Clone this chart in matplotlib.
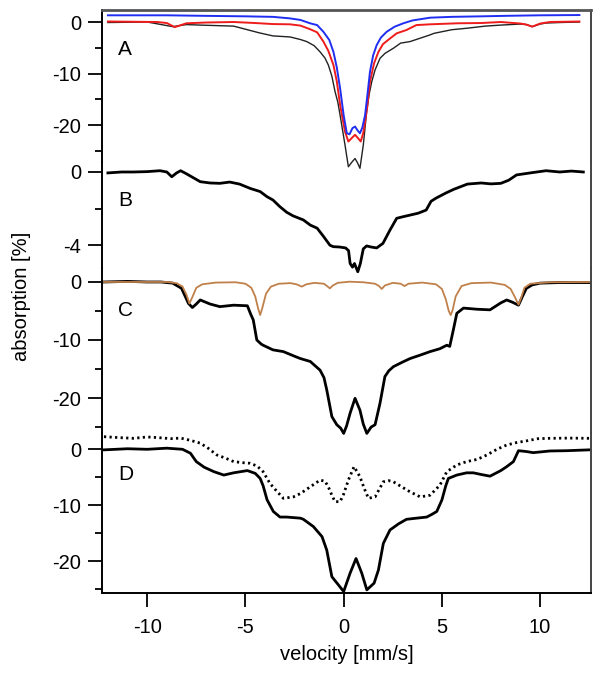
import matplotlib
matplotlib.use("Agg")
import matplotlib.pyplot as plt
from matplotlib.ticker import FixedLocator

plt.rcParams['font.family'] = ['Liberation Sans', 'DejaVu Sans']
plt.rcParams['axes.unicode_minus'] = False

# ---------------- data (velocity in mm/s, absorption in %) ----------------
A_blue_v = [-12.0, -9.0, -7.15, -5.0, -3.6, -2.73, -2.2, -1.71, -1.35, -1.03, -0.73, -0.52, -0.35, -0.18, 0.0,
            0.16, 0.3, 0.45, 0.58, 0.7, 0.83, 0.95, 1.09, 1.2, 1.34, 1.5, 1.68, 1.9, 2.19, 2.6, 3.04, 3.5, 4.4,
            5.5, 7.0, 8.3, 10.0, 12.0]
A_blue_y = [1.3, 1.3, 1.2, 1.1, 1.0, 0.7, 0.4, -0.25, -0.6, -1.9, -3.5, -5.8, -8.8, -12.9, -18.1,
            -21.6, -21.8, -20.6, -20.3, -21.0, -21.6, -20.5, -18.1, -14.5, -9.65, -6.5, -4.5, -3.0, -1.9, -0.9,
            -0.25, 0.3, 0.84, 1.0, 1.1, 1.2, 1.3, 1.35]

A_red_v = [-12.0, -9.5, -9.0, -8.6, -8.0, -7.0, -5.6, -4.5, -3.6, -2.73, -2.2, -1.71, -1.35, -1.03, -0.78,
           -0.52, -0.35, -0.18, 0.07, 0.24, 0.42, 0.58, 0.72, 0.87, 1.0, 1.09, 1.2, 1.34, 1.55, 1.77, 2.0, 2.36,
           2.7, 3.2, 3.7, 4.4, 5.8, 7.0, 8.0, 9.0, 9.3, 9.6, 10.0, 10.5, 12.0]
A_red_y = [0.1, 0.0, -0.2, -1.0, -0.25, -0.1, 0.0, -0.2, -0.4, -0.45, -0.7, -1.4, -2.0, -3.8, -5.6,
           -8.35, -11.5, -16.1, -21.3, -23.2, -22.5, -21.9, -22.5, -23.2, -21.5, -19.4, -16.5, -11.6, -8.0, -5.8,
           -4.3, -3.2, -2.2, -1.55, -0.6, -0.45, -0.25, -0.2, 0.0, -0.3, -0.5, -0.9, -0.3, 0.0, 0.1]

A_black_v = [-12.0, -10.0, -8.7, -8.0, -7.3, -5.6, -4.9, -4.3, -3.6, -2.73, -2.2, -1.88, -1.5, -1.2, -0.95,
             -0.78, -0.6, -0.44, -0.3, -0.18, 0.07, 0.24, 0.42, 0.58, 0.7, 0.83, 1.0, 1.17, 1.3, 1.43, 1.6,
             1.85, 2.1, 2.53, 2.9, 3.38, 4.4, 4.6, 5.5, 6.3, 7.2, 8.0, 9.0, 9.3, 9.6, 10.0, 10.3, 11.0, 12.0]
A_black_y = [-0.1, 0.0, -0.9, -0.5, -0.6, -0.8, -1.5, -2.1, -2.7, -2.9, -3.4, -3.8, -4.6, -5.8, -7.0,
             -8.35, -10.5, -13.5, -15.5, -18.1, -23.9, -28.1, -27.2, -26.5, -27.3, -28.4, -23.9, -17.4, -14.0,
             -11.6, -9.3, -7.05, -6.1, -5.1, -4.1, -3.8, -2.5, -2.2, -1.5, -1.2, -0.8, -0.6, -0.4, -0.5, -0.9,
             -0.4, -0.2, -0.1, 0.0]

B_v = [-12.0, -11.3, -10.7, -10.0, -9.35, -9.0, -8.75, -8.5, -8.3, -8.0, -7.3, -6.8, -6.3, -5.8, -5.3, -4.75,
       -4.25, -3.9, -3.6, -3.24, -2.9, -2.57, -2.05, -1.7, -1.35, -1.04, -0.7, -0.53, -0.2, 0.1, 0.25, 0.33,
       0.45, 0.55, 0.72, 0.85, 1.0, 1.17, 1.4, 1.68, 2.0, 2.36, 2.7, 3.0, 3.4, 3.8, 4.2, 4.45, 4.7, 5.2, 5.6,
       6.3, 7.0, 7.5, 8.0, 8.4, 8.8, 9.5, 10.3, 11.0, 11.6, 12.2]
B_y = [-0.05, 0.0, 0.0, 0.02, 0.07, 0.0, -0.26, -0.05, 0.07, -0.1, -0.53, -0.6, -0.62, -0.55, -0.66, -0.9,
       -1.07, -1.35, -1.53, -1.9, -2.2, -2.4, -2.62, -2.9, -3.07, -3.5, -4.0, -4.08, -4.1, -4.15, -4.3, -5.0,
       -5.2, -5.0, -5.45, -5.0, -4.2, -4.04, -4.1, -4.15, -3.9, -3.17, -2.53, -2.45, -2.35, -2.25, -2.08, -1.6,
       -1.43, -1.15, -0.95, -0.66, -0.6, -0.65, -0.62, -0.45, -0.16, -0.05, 0.07, 0.0, 0.05, 0.0]

C_black_v = [-12.2, -11.0, -10.0, -9.3, -8.7, -8.25, -7.9, -7.7, -7.5, -7.3, -6.8, -6.3, -5.6, -4.9, -4.75,
             -4.6, -4.42, -4.2, -4.1, -3.6, -3.07, -2.5, -2.2, -1.7, -1.2, -1.0, -0.86, -0.6, -0.35, -0.15, 0.0,
             0.15, 0.33, 0.58, 0.83, 1.0, 1.18, 1.4, 1.6, 1.85, 2.1, 2.3, 2.53, 3.0, 3.38, 3.9, 4.4, 4.9, 5.25,
             5.4, 5.58, 5.76, 6.1, 6.8, 7.45, 8.0, 8.3, 8.6, 8.9, 9.1, 9.3, 9.6, 10.0, 11.0, 12.5]
C_black_y = [0.0, 0.1, 0.0, 0.0, -0.2, -1.1, -3.7, -4.4, -3.8, -3.1, -3.8, -4.25, -4.0, -4.1, -5.4,
             -6.55, -10.0, -10.7, -10.9, -11.7, -12.0, -12.8, -13.2, -13.7, -15.2, -16.5, -18.6, -23.2, -24.6,
             -25.2, -26.1, -24.8, -22.6, -20.05, -22.1, -24.5, -26.1, -25.0, -24.6, -20.9, -16.3, -15.3, -14.6,
             -13.8, -13.2, -12.6, -12.0, -11.5, -10.9, -11.1, -8.3, -5.4, -4.5, -4.7, -4.8, -3.6, -3.1, -3.5,
             -4.0, -2.5, -1.1, -0.5, -0.2, -0.1, -0.1]

C_fit_v = [-12.2, -9.0, -8.5, -8.2, -8.0, -7.85, -7.7, -7.5, -7.2, -6.5, -5.5, -5.0, -4.7, -4.5, -4.35, -4.25,
           -4.15, -3.95, -3.7, -3.3, -2.7, -2.4, -2.13, -1.9, -1.5, -1.0, -0.85, -0.7, -0.55, -0.3, 0.3, 1.0,
           1.6, 1.8, 1.94, 2.1, 2.5, 2.9, 3.1, 3.3, 4.0, 4.7, 5.0, 5.2, 5.35, 5.45, 5.55, 5.7, 6.0, 6.5, 7.5,
           8.2, 8.5, 8.7, 8.9, 9.05, 9.2, 9.5, 10.5, 12.5]
C_fit_y = [0.0, 0.0, -0.2, -0.8, -2.2, -3.7, -2.6, -1.0, -0.4, -0.1, -0.05, -0.3, -1.0, -2.5, -4.6, -5.7,
           -4.6, -2.0, -0.8, -0.3, -0.2, -0.4, -0.8, -0.4, -0.15, -0.3, -0.7, -1.1, -0.6, -0.15, 0.05, -0.05,
           -0.3, -0.7, -1.2, -0.6, -0.15, -0.3, -0.7, -0.3, -0.1, -0.4, -1.2, -3.0, -5.0, -5.7, -4.8, -2.5,
           -0.7, -0.2, -0.1, -0.5, -1.2, -2.5, -3.9, -2.6, -1.0, -0.3, -0.05, 0.0]

D_solid_v = [-12.2, -11.0, -10.0, -9.0, -8.2, -7.8, -7.5, -7.1, -6.6, -6.1, -5.6, -4.9, -4.5, -4.25, -4.1,
             -3.9, -3.58, -3.24, -2.9, -2.2, -2.05, -1.54, -1.1, -0.86, -0.6, -0.27, 0.0, 0.33, 0.63, 0.92,
             1.18, 1.55, 1.77, 2.02, 2.36, 2.8, 3.2, 3.7, 4.23, 4.5, 4.74, 5.0, 5.2, 5.33, 5.76, 6.26, 6.6,
             7.0, 7.45, 8.0, 8.3, 8.64, 8.9, 9.3, 9.65, 10.5, 11.35, 12.5]
D_solid_y = [-0.1, 0.1, 0.0, 0.2, 0.0, -0.7, -2.2, -3.2, -4.0, -4.6, -4.2, -3.8, -4.3, -5.2, -6.5,
             -9.0, -11.1, -12.1, -12.1, -12.3, -12.5, -13.8, -15.6, -18.0, -22.75, -24.2, -25.4, -22.1, -19.5,
             -22.1, -25.1, -23.9, -21.55, -16.8, -14.4, -13.3, -12.5, -12.3, -12.1, -11.6, -11.1, -9.05, -6.5,
             -5.2, -4.6, -4.2, -4.2, -4.5, -4.8, -3.8, -3.1, -2.2, -0.25, -0.4, -0.6, -0.3, -0.25, -0.1]

D_dot_v = [-12.2, -11.5, -10.7, -10.0, -9.5, -8.8, -8.3, -7.8, -7.3, -6.9, -6.46, -6.0, -5.6, -5.1, -4.76,
           -4.4, -4.1, -3.75, -3.4, -3.07, -2.56, -2.2, -1.7, -1.2, -0.95, -0.78, -0.6, -0.44, -0.18, 0.0,
           0.24, 0.53, 0.83, 1.05, 1.26, 1.6, 2.02, 2.3, 2.53, 3.0, 3.38, 3.9, 4.4, 4.9, 5.25, 5.76, 6.26,
           6.8, 7.3, 7.8, 8.3, 8.8, 9.3, 9.9, 10.5, 11.5, 12.5]
D_dot_y = [2.25, 2.1, 1.96, 2.2, 2.1, 1.9, 2.0, 1.6, 1.1, 0.2, -1.0, -1.6, -2.2, -2.4, -2.5,
           -3.0, -4.0, -6.1, -7.5, -8.75, -8.5, -7.9, -6.7, -5.5, -5.7, -6.7, -8.2, -9.35, -9.35, -8.0,
           -5.5, -3.1, -4.9, -7.0, -8.75, -8.5, -5.8, -5.6, -5.8, -6.8, -7.6, -8.5, -8.2, -6.4, -4.0, -2.8,
           -2.2, -1.8, -1.0, 0.0, 0.77, 1.2, 1.5, 1.9, 1.96, 2.0, 1.96]

panel_labels = ['A', 'B', 'C', 'D']
x_ticks = [-10, -5, 0, 5, 10]

# ---------------- layout ----------------
W_PX, H_PX = 604, 681
fig = plt.figure(figsize=(W_PX / 100, H_PX / 100), dpi=100)
L_PX, R_PX = 102, 591
panels_px = [(10, 162), (162, 268), (268, 433), (433, 593)]
ylims = [(-27.18, 2.33), (-5.246, 0.546), (-26.03, 2.41), (-25.66, 2.91)]
major = [[0, -10, -20], [0, -4], [0, -10, -20], [0, -10, -20]]
minor = [[-5, -15, -25], [-2], [-5, -15, -25], [-5, -15, -25]]
letter_y = [0.737, 0.64, 0.745, 0.7375]
FS = 14.5

axes = []
for i, (t, b) in enumerate(panels_px):
    ax = fig.add_axes([L_PX / W_PX, 1 - b / H_PX, (R_PX - L_PX) / W_PX, (b - t) / H_PX])
    ax.patch.set_visible(False)
    ax.set_xlim(-12.3, 12.59)
    ax.set_ylim(*ylims[i])
    ax.yaxis.set_major_locator(FixedLocator(major[i]))
    ax.yaxis.set_minor_locator(FixedLocator(minor[i]))
    ax.tick_params(axis='y', which='major', direction='out', length=10, width=1.3, pad=5, labelsize=FS)
    ax.tick_params(axis='y', which='minor', direction='out', length=5, width=1.3)
    for s in ['top', 'bottom', 'left', 'right']:
        ax.spines[s].set_visible(False)
    ax.spines['left'].set_visible(True)
    ax.spines['left'].set_linewidth(1.4)
    ax.spines['right'].set_visible(True)
    ax.spines['right'].set_linewidth(1.4)
    ax.spines['right'].set_color('#444444')
    ax.text(0.033, letter_y[i], panel_labels[i], transform=ax.transAxes, fontsize=FS + 0.5,
            ha='left', va='center')
    if i < 3:
        ax.tick_params(axis='x', which='both', bottom=False, labelbottom=False)
    axes.append(ax)

axes[0].spines['top'].set_visible(True)
axes[0].spines['top'].set_linewidth(2.0)
axes[0].spines['top'].set_color('#555555')
axD = axes[3]
axD.spines['bottom'].set_visible(True)
axD.spines['bottom'].set_linewidth(1.4)
axD.set_xticks(x_ticks)
axD.set_xticklabels([str(v) for v in x_ticks])
axD.tick_params(axis='x', direction='out', length=10, width=1.3, pad=8, labelsize=FS)
axD.set_xlabel('velocity [mm/s]', fontsize=FS, labelpad=6)

fig.text(22 / W_PX, 1 - 296 / H_PX, 'absorption [%]', rotation=90, fontsize=FS, ha='center', va='center')

# ---------------- curves ----------------
axA, axB, axC, _ = axes
axA.plot(A_black_v, A_black_y, color='#222222', lw=1.0, clip_on=False)
axA.plot(A_red_v, A_red_y, color='#ee1c1c', lw=1.4, clip_on=False)
axA.plot(A_blue_v, A_blue_y, color='#1f2ef0', lw=1.4, clip_on=False)

axB.plot(B_v, B_y, color='black', lw=2.0, clip_on=False)

axC.plot(C_black_v, C_black_y, color='black', lw=2.0, clip_on=False)
axC.plot(C_fit_v, C_fit_y, color='#c0804a', lw=1.3, clip_on=False)

axD.plot(D_solid_v, D_solid_y, color='black', lw=2.0, clip_on=False)
axD.plot(D_dot_v, D_dot_y, color='black', lw=2.0, linestyle=(0, (0.8, 1.2)), clip_on=False)

fig.savefig('out.png', dpi=100, facecolor='white')
